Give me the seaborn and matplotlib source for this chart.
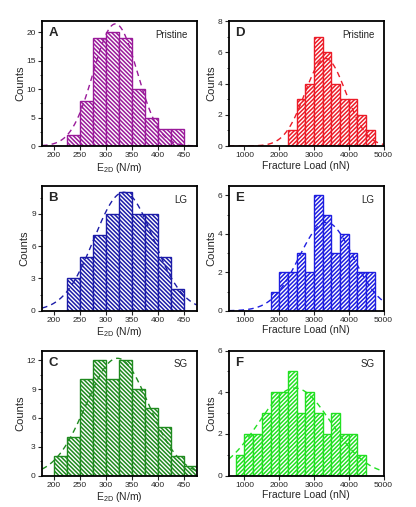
import numpy as np
import pandas as pd
import matplotlib
matplotlib.use("Agg")
import matplotlib.pyplot as plt
from matplotlib.ticker import AutoMinorLocator, MultipleLocator
import seaborn as sns

# histogram counts
e2d_edges = np.arange(200, 476, 25)          # 200 ... 475
pristine_e2d = [0, 2, 8, 19, 20, 19, 10, 5, 3, 3, 0]
lg_e2d = [0, 3, 5, 7, 9, 11, 9, 9, 5, 2, 0]
sg_e2d = [2, 4, 10, 12, 10, 12, 9, 7, 5, 2, 1]

load_edges = np.arange(750, 4751, 250)       # 750 ... 4750
pristine_load = [0, 0, 0, 0, 0, 0, 1, 3, 4, 7, 6, 4, 3, 3, 2, 1]
lg_load = [0, 0, 0, 0, 1, 2, 2, 3, 2, 6, 5, 3, 4, 3, 2, 2]
sg_load = [1, 2, 2, 3, 4, 4, 5, 3, 4, 3, 2, 3, 2, 2, 1, 0]

# gaussian fit parameters (centre, sigma, height)
fit_pristine_e2d = (318, 42, 21.5)
fit_lg_e2d = (334, 57, 11.0)
fit_sg_e2d = (322, 60, 12.2)
fit_pristine_load = (3330, 590, 5.6)
fit_lg_load = (3350, 780, 4.6)
fit_sg_load = (2450, 1040, 4.2)

panels = [
    # letter, tag, edges, counts, fit, colour, hatch, xlim, ylim, xstep, ystep
    ("A", "Pristine", e2d_edges, pristine_e2d, fit_pristine_e2d, "#9a1a9a", "\\" * 8, (177.5, 474), 22, 50, 5),
    ("D", "Pristine", load_edges, pristine_load, fit_pristine_load, "#ec1c28", "/" * 8, (550, 5000), 8, 1000, 2),
    ("B", "LG", e2d_edges, lg_e2d, fit_lg_e2d, "#1c1ca8", "\\" * 8, (177.5, 474), 11.6, 50, 3),
    ("E", "LG", load_edges, lg_load, fit_lg_load, "#1e1ee0", "/" * 8, (550, 5000), 6.5, 1000, 2),
    ("C", "SG", e2d_edges, sg_e2d, fit_sg_e2d, "#1f8a1f", "\\" * 8, (177.5, 474), 13, 50, 3),
    ("F", "SG", load_edges, sg_load, fit_sg_load, "#22e022", "/" * 8, (550, 5000), 6, 1000, 2),
]

sns.set_style("ticks")
plt.rcParams["font.family"] = ["Liberation Sans", "DejaVu Sans"]
plt.rcParams["mathtext.fontset"] = "custom"
plt.rcParams["mathtext.rm"] = "Liberation Sans"
plt.rcParams["mathtext.it"] = "Liberation Sans"
plt.rcParams["hatch.linewidth"] = 1.1
plt.rcParams["xtick.labelsize"] = 6
plt.rcParams["ytick.labelsize"] = 6

fig = plt.figure(figsize=(4.16, 5.07), dpi=100)
lefts = [0.101, 0.550]
bottoms = [0.712, 0.387, 0.062]

for i, (letter, tag, edges, counts, fit, color, hatch, xlim, ytop, xstep, ystep) in enumerate(panels):
    ax = fig.add_axes([lefts[i % 2], bottoms[i // 2], 0.372, 0.2465])
    centers = (edges[:-1] + edges[1:]) / 2
    width = float(edges[1] - edges[0])
    df = pd.DataFrame({"x": centers, "n": np.array(counts, dtype=float)})
    sns.histplot(data=df, x="x", weights="n", binwidth=width,
                 binrange=(float(edges[0]), float(edges[-1])), ax=ax,
                 facecolor="white", edgecolor=color, hatch=hatch,
                 linewidth=1.0, alpha=1)

    # dashed gaussian fit
    mu, sd, amp = fit
    xs = np.linspace(xlim[0], xlim[1], 300)
    ys = amp * np.exp(-(xs - mu) ** 2 / (2 * sd ** 2))
    sns.lineplot(x=xs, y=ys, ax=ax, color=color, linestyle=(0, (4, 3)), linewidth=1.0)

    ax.set_xlim(*xlim)
    ax.set_ylim(0, ytop)
    ax.xaxis.set_major_locator(MultipleLocator(xstep))
    ax.yaxis.set_major_locator(MultipleLocator(ystep))
    ax.yaxis.set_minor_locator(AutoMinorLocator(2))
    ax.tick_params(which="major", length=3, width=0.8, pad=1.5)
    ax.tick_params(which="minor", length=1.5, width=0.6)
    for s in ax.spines.values():
        s.set_linewidth(1.3)
        s.set_color("black")

    ax.set_ylabel("Counts", fontsize=8, labelpad=1)
    if i % 2 == 0:
        ax.set_xlabel("E$_{2D}$ (N/m)", fontsize=7.5, labelpad=1)
    else:
        ax.set_xlabel("Fracture Load (nN)", fontsize=7.5, labelpad=1)

    ax.text(0.04, 0.95, letter, transform=ax.transAxes, fontsize=9.5,
            fontweight="bold", ha="left", va="top")
    ax.text(0.94, 0.93, tag, transform=ax.transAxes, fontsize=7,
            ha="right", va="top")

fig.savefig("out.png", dpi=100)
